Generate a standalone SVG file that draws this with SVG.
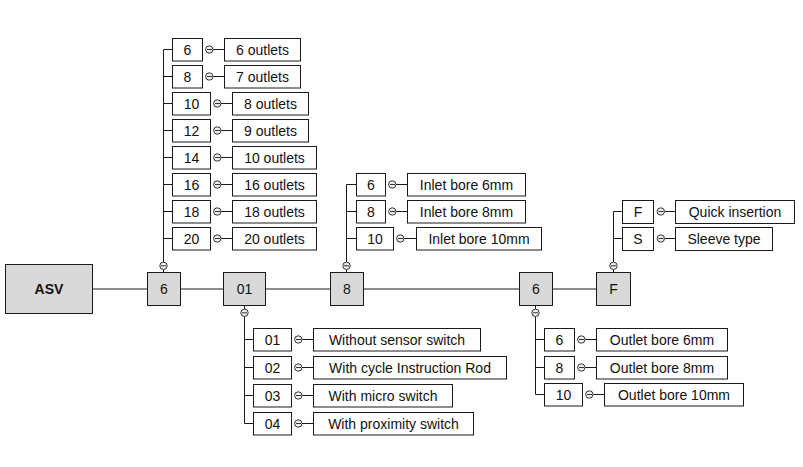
<svg xmlns="http://www.w3.org/2000/svg" width="803" height="467" viewBox="0 0 803 467">
<style>
.bg{fill:#ffffff}
.g{fill:#d9d9d9;stroke:#1a1a1a;stroke-width:1}
.w{fill:#ffffff;stroke:#1a1a1a;stroke-width:1}
.ln{stroke:#1a1a1a;stroke-width:1;fill:none}
.c{fill:#eeeeee;stroke:#333333;stroke-width:1}
.m{stroke:#333333;stroke-width:1}
text{font-family:"Liberation Sans",Arial,sans-serif;font-size:14px;fill:#111111;text-anchor:middle;dominant-baseline:central}
.b{font-weight:bold}
</style>
<rect class="bg" x="0" y="0" width="803" height="467"/>
<g id="connectors">
<path class="ln" d="M92,289H147M180,289H223M265,289H330M363,289H519M552,289H596"/>
<!-- left top branch -->
<path class="ln" d="M163.5,262V49.5H172M163.5,76.5H172M163.5,103.5H172M163.5,130.5H172M163.5,157.5H172M163.5,184.5H172M163.5,211.5H172M163.5,238.5H172M163.5,269.5V272"/>
<!-- 01 bottom branch -->
<path class="ln" d="M244.5,316.5V423.5H253M244.5,339.5H253M244.5,367.5H253M244.5,395.5H253M244.5,305V309"/>
<!-- 8 top branch -->
<path class="ln" d="M346.5,262V184.5H356M346.5,211.5H356M346.5,238.5H356M346.5,269.5V272"/>
<!-- F top branch -->
<path class="ln" d="M613.5,262V211.5H622M613.5,238.5H622M613.5,269.5V272"/>
<!-- 6 bottom branch -->
<path class="ln" d="M535.5,316.5V394.5H544M535.5,339.5H544M535.5,367.5H544M535.5,305V309"/>
<!-- circle to label links -->
<path class="ln" d="M213,49.5H224M213,76.5H224M221,103.5H232M221,130.5H232M221,157.5H232M221,184.5H232M221,211.5H232M221,238.5H232"/>
<path class="ln" d="M396,184.5H407M396,211.5H407M404,238.5H416"/>
<path class="ln" d="M665,211.5H675M665,238.5H675"/>
<path class="ln" d="M302,339.5H313M302,367.5H313M302,395.5H313M302,423.5H313"/>
<path class="ln" d="M585,339.5H596M585,367.5H596M593,394.5H604"/>
<!-- circles -->
<g id="circles">
<circle class="c" cx="163.5" cy="265.8" r="3.7"/><line class="m" x1="161" y1="265.8" x2="166" y2="265.8"/>
<circle class="c" cx="244.5" cy="312.8" r="3.7"/><line class="m" x1="242" y1="312.8" x2="247" y2="312.8"/>
<circle class="c" cx="346.5" cy="265.8" r="3.7"/><line class="m" x1="344" y1="265.8" x2="349" y2="265.8"/>
<circle class="c" cx="613.5" cy="265.8" r="3.7"/><line class="m" x1="611" y1="265.8" x2="616" y2="265.8"/>
<circle class="c" cx="535.5" cy="312.8" r="3.7"/><line class="m" x1="533" y1="312.8" x2="538" y2="312.8"/>

<circle class="c" cx="209.3" cy="49.5" r="3.7"/><line class="m" x1="207" y1="49.5" x2="212" y2="49.5"/>
<circle class="c" cx="209.3" cy="76.5" r="3.7"/><line class="m" x1="207" y1="76.5" x2="212" y2="76.5"/>
<circle class="c" cx="217.3" cy="103.5" r="3.7"/><line class="m" x1="215" y1="103.5" x2="220" y2="103.5"/>
<circle class="c" cx="217.3" cy="130.5" r="3.7"/><line class="m" x1="215" y1="130.5" x2="220" y2="130.5"/>
<circle class="c" cx="217.3" cy="157.5" r="3.7"/><line class="m" x1="215" y1="157.5" x2="220" y2="157.5"/>
<circle class="c" cx="217.3" cy="184.5" r="3.7"/><line class="m" x1="215" y1="184.5" x2="220" y2="184.5"/>
<circle class="c" cx="217.3" cy="211.5" r="3.7"/><line class="m" x1="215" y1="211.5" x2="220" y2="211.5"/>
<circle class="c" cx="217.3" cy="238.5" r="3.7"/><line class="m" x1="215" y1="238.5" x2="220" y2="238.5"/>

<circle class="c" cx="392.3" cy="184.5" r="3.7"/><line class="m" x1="390" y1="184.5" x2="395" y2="184.5"/>
<circle class="c" cx="392.3" cy="211.5" r="3.7"/><line class="m" x1="390" y1="211.5" x2="395" y2="211.5"/>
<circle class="c" cx="400.3" cy="238.5" r="3.7"/><line class="m" x1="398" y1="238.5" x2="403" y2="238.5"/>

<circle class="c" cx="660.8" cy="211.5" r="3.7"/><line class="m" x1="658.5" y1="211.5" x2="663.5" y2="211.5"/>
<circle class="c" cx="660.8" cy="238.5" r="3.7"/><line class="m" x1="658.5" y1="238.5" x2="663.5" y2="238.5"/>

<circle class="c" cx="298.3" cy="339.5" r="3.7"/><line class="m" x1="296" y1="339.5" x2="301" y2="339.5"/>
<circle class="c" cx="298.3" cy="367.5" r="3.7"/><line class="m" x1="296" y1="367.5" x2="301" y2="367.5"/>
<circle class="c" cx="298.3" cy="395.5" r="3.7"/><line class="m" x1="296" y1="395.5" x2="301" y2="395.5"/>
<circle class="c" cx="298.3" cy="423.5" r="3.7"/><line class="m" x1="296" y1="423.5" x2="301" y2="423.5"/>

<circle class="c" cx="581.3" cy="339.5" r="3.7"/><line class="m" x1="579" y1="339.5" x2="584" y2="339.5"/>
<circle class="c" cx="581.3" cy="367.5" r="3.7"/><line class="m" x1="579" y1="367.5" x2="584" y2="367.5"/>
<circle class="c" cx="589.3" cy="394.5" r="3.7"/><line class="m" x1="587" y1="394.5" x2="592" y2="394.5"/>
</g>
</g>

<g id="node-asv"><rect class="g" x="5.5" y="264.5" width="87" height="49"/><text class="b" x="49" y="289">ASV</text></g>
<g id="node-m6"><rect class="g" x="147.5" y="272.5" width="33" height="33"/><text x="164" y="289">6</text></g>
<g id="node-m01"><rect class="g" x="223.5" y="272.5" width="42" height="33"/><text x="244.5" y="289">01</text></g>
<g id="node-m8"><rect class="g" x="330.5" y="272.5" width="33" height="33"/><text x="347" y="289">8</text></g>
<g id="node-m6b"><rect class="g" x="519.5" y="272.5" width="33" height="33"/><text x="536" y="289">6</text></g>
<g id="node-mF"><rect class="g" x="596.5" y="272.5" width="34" height="33"/><text x="613.5" y="289">F</text></g>

<!-- left top column -->
<g id="node-o6"><rect class="w" x="172.5" y="38.5" width="30" height="22.5"/><text x="187.5" y="50">6</text></g>
<g id="node-o6l"><rect class="w" x="224.5" y="38.5" width="76" height="22.5"/><text x="262.5" y="50">6 outlets</text></g>
<g id="node-o8"><rect class="w" x="172.5" y="65.5" width="30" height="22.5"/><text x="187.5" y="77">8</text></g>
<g id="node-o8l"><rect class="w" x="224.5" y="65.5" width="76" height="22.5"/><text x="262.5" y="77">7 outlets</text></g>
<g id="node-o10"><rect class="w" x="172.5" y="92.5" width="38" height="22.5"/><text x="191.5" y="104">10</text></g>
<g id="node-o10l"><rect class="w" x="232.5" y="92.5" width="76" height="22.5"/><text x="270.5" y="104">8 outlets</text></g>
<g id="node-o12"><rect class="w" x="172.5" y="119.5" width="38" height="22.5"/><text x="191.5" y="131">12</text></g>
<g id="node-o12l"><rect class="w" x="232.5" y="119.5" width="76" height="22.5"/><text x="270.5" y="131">9 outlets</text></g>
<g id="node-o14"><rect class="w" x="172.5" y="146.5" width="38" height="22.5"/><text x="191.5" y="158">14</text></g>
<g id="node-o14l"><rect class="w" x="232.5" y="146.5" width="84" height="22.5"/><text x="274.5" y="158">10 outlets</text></g>
<g id="node-o16"><rect class="w" x="172.5" y="173.5" width="38" height="22.5"/><text x="191.5" y="185">16</text></g>
<g id="node-o16l"><rect class="w" x="232.5" y="173.5" width="84" height="22.5"/><text x="274.5" y="185">16 outlets</text></g>
<g id="node-o18"><rect class="w" x="172.5" y="200.5" width="38" height="22.5"/><text x="191.5" y="212">18</text></g>
<g id="node-o18l"><rect class="w" x="232.5" y="200.5" width="84" height="22.5"/><text x="274.5" y="212">18 outlets</text></g>
<g id="node-o20"><rect class="w" x="172.5" y="227.5" width="38" height="22.5"/><text x="191.5" y="239">20</text></g>
<g id="node-o20l"><rect class="w" x="232.5" y="227.5" width="84" height="22.5"/><text x="274.5" y="239">20 outlets</text></g>

<!-- inlet bore -->
<g id="node-i6"><rect class="w" x="356.5" y="173.5" width="29" height="22.5"/><text x="371" y="185">6</text></g>
<g id="node-i6l"><rect class="w" x="407.5" y="173.5" width="118" height="22.5"/><text x="466.5" y="185">Inlet bore 6mm</text></g>
<g id="node-i8"><rect class="w" x="356.5" y="200.5" width="29" height="22.5"/><text x="371" y="212">8</text></g>
<g id="node-i8l"><rect class="w" x="407.5" y="200.5" width="118" height="22.5"/><text x="466.5" y="212">Inlet bore 8mm</text></g>
<g id="node-i10"><rect class="w" x="356.5" y="227.5" width="37" height="22.5"/><text x="375" y="239">10</text></g>
<g id="node-i10l"><rect class="w" x="416.5" y="227.5" width="125" height="22.5"/><text x="479" y="239">Inlet bore 10mm</text></g>

<!-- F/S -->
<g id="node-fF"><rect class="w" x="622.5" y="200.5" width="31" height="23"/><text x="638" y="212">F</text></g>
<g id="node-fFl"><rect class="w" x="675.5" y="200.5" width="119" height="23"/><text x="735" y="212">Quick insertion</text></g>
<g id="node-fS"><rect class="w" x="622.5" y="227.5" width="31" height="23"/><text x="638" y="239">S</text></g>
<g id="node-fSl"><rect class="w" x="675.5" y="227.5" width="97" height="23"/><text x="724" y="239">Sleeve type</text></g>

<!-- switch options -->
<g id="node-s01"><rect class="w" x="253.5" y="328.5" width="38" height="22.5"/><text x="272.5" y="340">01</text></g>
<g id="node-s01l"><rect class="w" x="313.5" y="328.5" width="167" height="22.5"/><text x="397" y="340">Without sensor switch</text></g>
<g id="node-s02"><rect class="w" x="253.5" y="356.5" width="38" height="22.5"/><text x="272.5" y="368">02</text></g>
<g id="node-s02l"><rect class="w" x="313.5" y="356.5" width="193" height="22.5"/><text x="410" y="368">With cycle Instruction Rod</text></g>
<g id="node-s03"><rect class="w" x="253.5" y="384.5" width="38" height="22.5"/><text x="272.5" y="396">03</text></g>
<g id="node-s03l"><rect class="w" x="313.5" y="384.5" width="139" height="22.5"/><text x="383" y="396">With micro switch</text></g>
<g id="node-s04"><rect class="w" x="253.5" y="412.5" width="38" height="22.5"/><text x="272.5" y="424">04</text></g>
<g id="node-s04l"><rect class="w" x="313.5" y="412.5" width="160" height="22.5"/><text x="393.5" y="424">With proximity switch</text></g>

<!-- outlet bore -->
<g id="node-b6"><rect class="w" x="544.5" y="328.5" width="30" height="22.5"/><text x="559.5" y="340">6</text></g>
<g id="node-b6l"><rect class="w" x="596.5" y="328.5" width="131" height="22.5"/><text x="662" y="340">Outlet bore 6mm</text></g>
<g id="node-b8"><rect class="w" x="544.5" y="356.5" width="30" height="22.5"/><text x="559.5" y="368">8</text></g>
<g id="node-b8l"><rect class="w" x="596.5" y="356.5" width="131" height="22.5"/><text x="662" y="368">Outlet bore 8mm</text></g>
<g id="node-b10"><rect class="w" x="544.5" y="383.5" width="38" height="22.5"/><text x="563.5" y="395">10</text></g>
<g id="node-b10l"><rect class="w" x="604.5" y="383.5" width="139" height="22.5"/><text x="674" y="395">Outlet bore 10mm</text></g>
</svg>
